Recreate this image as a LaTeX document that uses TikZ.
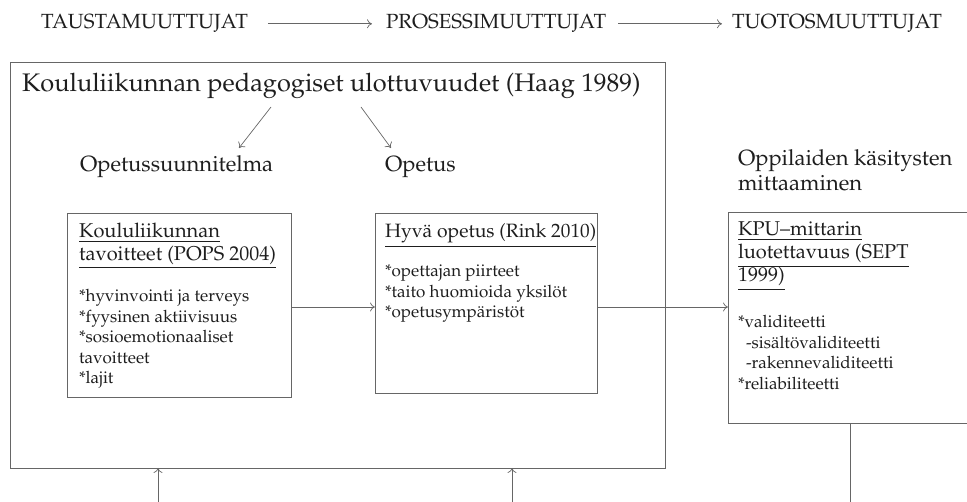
\documentclass[tikz,border=0pt]{standalone}
\usepackage[T1]{fontenc}
\usepackage{mathpazo}
\usetikzlibrary{arrows.meta}
\definecolor{ink}{HTML}{1E1E1E}
\definecolor{rule}{HTML}{666666}
\begin{document}
\begin{tikzpicture}[x=1pt,y=-1pt,
  every node/.style={inner sep=0pt, outer sep=0pt, text=ink},
  frame/.style={draw=rule, line width=0.9pt, rectangle, anchor=north west},
  conn/.style={draw=rule, line width=0.7pt},
  tip/.style={conn, -{To[length=5pt,width=9pt]}},
  varlabel/.style={anchor=base west, font=\fontsize{20.5}{24}\selectfont},
  titletext/.style={anchor=base west, font=\fontsize{25.4}{30}\selectfont},
  subtext/.style={anchor=base west, align=left, font=\fontsize{22}{25}\selectfont},
  headtext/.style={anchor=base west, align=left, font=\fontsize{20}{22.5}\selectfont},
  bodytext/.style={anchor=base west, align=left, font=\fontsize{17}{20.5}\selectfont},
]
\useasboundingbox (0,0) rectangle (967,502);
% multi-line text nodes are placed by the baseline of their last line

% variable groups along the top
\node[varlabel] (taus) at (41,29) {TAUSTAMUUTTUJAT};
\node[varlabel] (pros) at (386,29) {PROSESSIMUUTTUJAT};
\node[varlabel] (tuot) at (732,29) {TUOTOSMUUTTUJAT};
\draw[tip] ([xshift=20pt]taus.east) -- ([xshift=-14pt]pros.west);
\draw[tip] ([xshift=12pt]pros.east) -- ([xshift=-10pt]tuot.west);

% pedagogical dimensions frame
\node[frame, minimum width=654.5pt, minimum height=406pt] (main) at (10.5,62) {};
\node[titletext] (title) at (22,92) {Koululiikunnan pedagogiset ulottuvuudet (Haag 1989)};

\coordinate (d1s) at (271,107);
\coordinate (d1e) at (239,148);
\coordinate (d2s) at (361,107);
\coordinate (d2e) at (391,148);
\draw[tip] (d1s) -- (d1e);
\draw[tip] (d2s) -- (d2e);

\node[subtext] (ops) at (80,172) {Opetussuunnitelma};
\node[subtext] (ope) at (385,172) {Opetus};

% curriculum goals
\node[frame, minimum width=224pt, minimum height=184pt] (lbox) at (67,213) {};
\node[headtext] (lhead) at (79,260.5) {\underline{Koululiikunnan}\\\underline{tavoitteet (POPS 2004)}};
\node[bodytext] (lbody) at (79,384) {*hyvinvointi ja terveys\\*fyysinen aktiivisuus\\*sosioemotionaaliset\\tavoitteet\\*lajit};

% good teaching
\node[frame, minimum width=222pt, minimum height=180pt] (mbox) at (375,213) {};
\node[headtext, font=\fontsize{19.3}{22.5}\selectfont] (mhead) at (385,238) {\underline{Hyvä opetus (Rink 2010)}};
\node[bodytext] (mbody) at (385,318) {*opettajan piirteet\\*taito huomioida yksilöt\\*opetusympäristöt};

% measurement
\node[subtext] (mit) at (738,191) {Oppilaiden käsitysten\\mittaaminen};
\node[frame, minimum width=240pt, minimum height=211pt] (rbox) at (728,212) {};
\node[headtext, font=\fontsize{20}{23}\selectfont] (rhead) at (738,282) {\underline{KPU--mittarin}\\\underline{luotettavuus (SEPT}\\\underline{1999)}};
\node[bodytext] (rbody) at (738,389.5) {*validiteetti\\\hspace*{8pt}-sisältövaliditeetti\\\hspace*{8pt}-rakennevaliditeetti\\*reliabiliteetti};

% connectors between the boxes
\coordinate (lvl) at (0,307);
\draw[tip] (lbox.east |- lvl) -- (mbox.west |- lvl);
\draw[tip] (mbox.east |- lvl) -- (rbox.west |- lvl);

% inputs from below and the outgoing line
\coordinate (b1) at (158,502);
\coordinate (b2) at (512,502);
\coordinate (b3) at (850,502);
\draw[tip] (b1) -- (b1 |- main.south);
\draw[tip] (b2) -- (b2 |- main.south);
\draw[conn] (b3 |- rbox.south) -- (b3);
\end{tikzpicture}
\end{document}
